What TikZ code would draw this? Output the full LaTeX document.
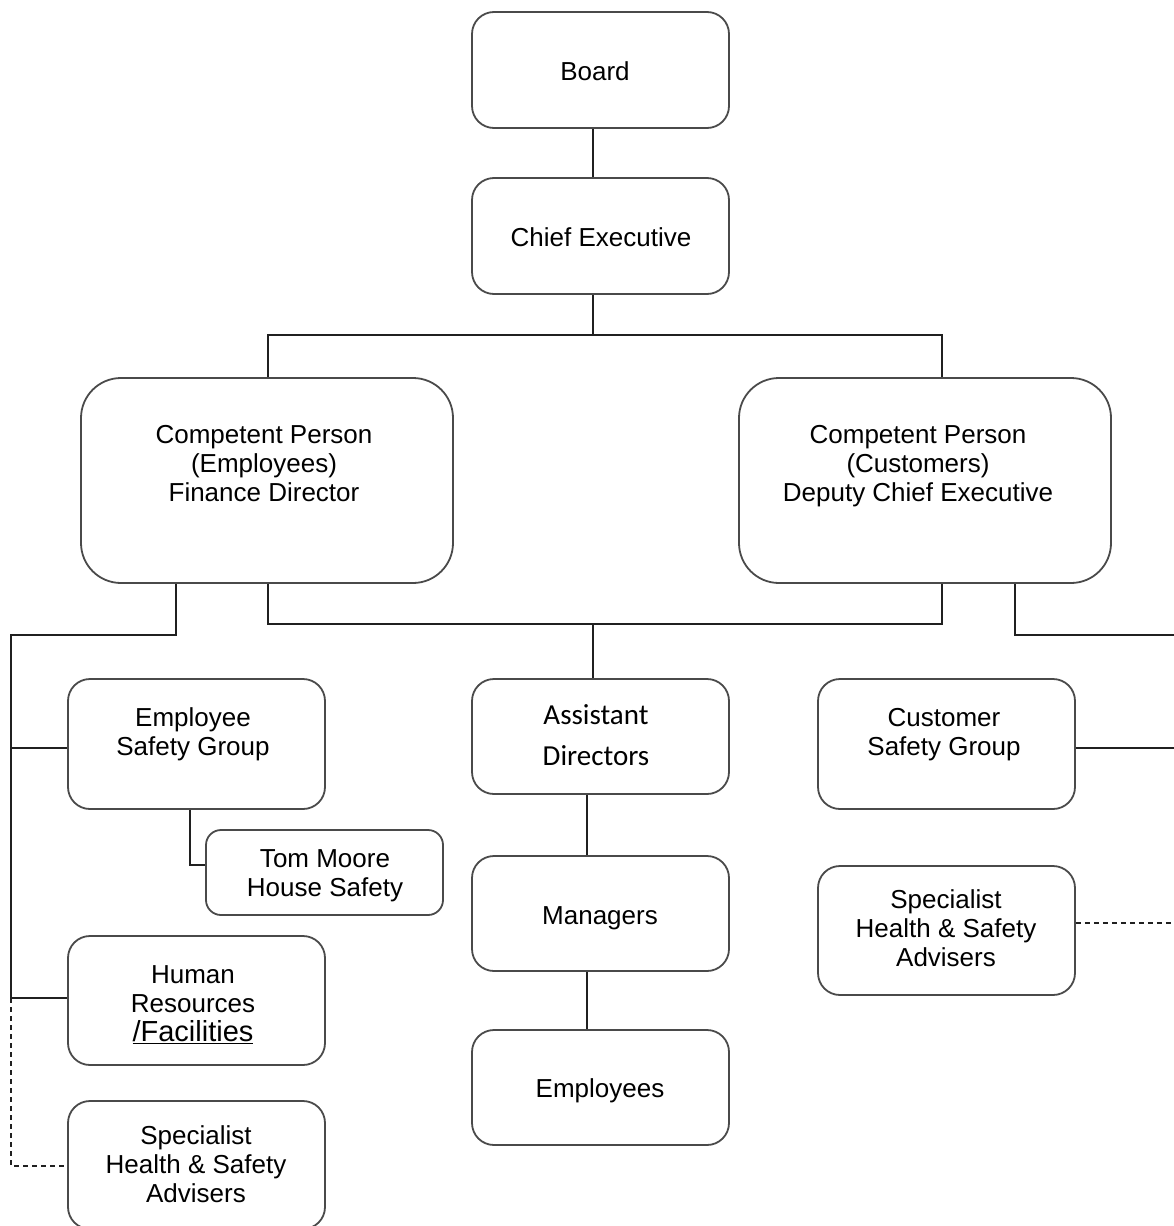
\documentclass[tikz,border=0pt]{standalone}
\usepackage{fontspec}
\setmainfont{Liberation Sans}
\newfontfamily\calib{Carlito}
\definecolor{boxc}{HTML}{4A4A4A}
\definecolor{linec}{HTML}{202020}
\begin{document}
\begin{tikzpicture}[x=1pt,y=-1pt,
  box/.style={draw=boxc, line width=1.8pt, rounded corners=#1, inner sep=0pt},
  box/.default=22pt,
  txt/.style={align=center, inner sep=0pt, font=\fontsize{26}{29}\selectfont},
  conn/.style={draw=linec, line width=1.6pt},
  dconn/.style={conn, dash pattern=on 5pt off 4pt}]
\useasboundingbox (0,0) rectangle (1174,1226);
% boxes
\node[box, minimum width=257pt, minimum height=116pt] (board) at (600.5,70) {};
\node[box, minimum width=257pt, minimum height=116pt] (ce) at (600.5,236) {};
\node[box=40pt, minimum width=372pt, minimum height=205pt] (cpe) at (267,480.5) {};
\node[box=40pt, minimum width=372pt, minimum height=205pt] (cpc) at (925,480.5) {};
\node[box, minimum width=257pt, minimum height=130pt] (esg) at (196.5,744) {};
\node[box=15pt, minimum width=237pt, minimum height=85pt] (tom) at (324.5,872.5) {};
\node[box, minimum width=257pt, minimum height=129pt] (hr) at (196.5,1000.5) {};
\node[box, minimum width=257pt, minimum height=128pt] (spl) at (196.5,1165) {};
\node[box, minimum width=257pt, minimum height=115pt] (ad) at (600.5,736.5) {};
\node[box, minimum width=257pt, minimum height=115pt] (mgr) at (600.5,913.5) {};
\node[box, minimum width=257pt, minimum height=115pt] (emp) at (600.5,1087.5) {};
\node[box, minimum width=257pt, minimum height=130pt] (csg) at (946.5,744) {};
\node[box, minimum width=257pt, minimum height=129pt] (spr) at (946.5,930.5) {};
% texts
\node[txt] (boardT) at (595,71) {Board};
\node[txt] (ceT) at (601,237) {Chief Executive};
\node[txt] (cpeT) at (264,464) {Competent Person\\(Employees)\\Finance Director};
\node[txt] (cpcT) at (918,466) {Competent Person\\(Customers)\\Deputy Chief Executive};
\node[txt] (esgT) at (193,734) {Employee\\Safety Group};
\node[txt] (tomT) at (325,876) {Tom Moore\\House Safety};
\node[txt] (hrT) at (193,1005) {Human\\Resources\\{\fontsize{29}{33}\selectfont\underline{/Facilities}}};
\node[txt] (splT) at (196,1164) {Specialist\\Health \& Safety\\Advisers};
\node[txt, font=\calib\fontsize{29}{41}\selectfont] (adT) at (596,735) {Assistant\\Directors};
\node[txt] (mgrT) at (600,918) {Managers};
\node[txt] (empT) at (600,1091) {Employees};
\node[txt] (csgT) at (944,735) {Customer\\Safety Group};
\node[txt] (sprT) at (946,928) {Specialist\\Health \& Safety\\Advisers};
% junction coordinates
\coordinate (jTop) at (593,335);
\coordinate (xL) at (268,0);
\coordinate (xR) at (942,0);
\coordinate (jMid) at (593,624);
\coordinate (rail) at (11,635);
\coordinate (xLe) at (176,0);
\coordinate (xT) at (190,0);
\coordinate (railR) at (1180,635);
\coordinate (xRe) at (1015,0);
\coordinate (xC) at (587,0);
% connectors
\draw[conn] (board.south -| jTop) -- (ce.north -| jTop);
\draw[conn] (ce.south -| jTop) -- (jTop);
\draw[conn] (cpe.north -| xL) |- (jTop) -| (cpc.north -| xR);
\draw[conn] (cpe.south -| xL) |- (jMid) -| (cpc.south -| xR);
\draw[conn] (jMid) -- (ad.north -| jMid);
\draw[conn] (cpe.south -| xLe) |- (rail) -- ([yshift=2.5pt]rail |- hr.west);
\draw[conn] ([yshift=-4pt]rail |- esg.west) -- ([yshift=-4pt]esg.west);
\draw[conn] ([yshift=2.5pt]rail |- hr.west) -- ([yshift=2.5pt]hr.west);
\draw[dconn] ([yshift=2.5pt]rail |- hr.west) |- ([yshift=-1pt]spl.west);
\draw[conn] (esg.south -| xT) |- ([yshift=7.5pt]tom.west);
\draw[conn] (cpc.south -| xRe) |- (railR);
\draw[conn] ([yshift=-4pt]csg.east) -- ([yshift=-4pt]csg.east -| railR);
\draw[dconn] ([yshift=7.5pt]spr.east) -- ([yshift=7.5pt]spr.east -| railR);
\draw[conn] (ad.south -| xC) -- (mgr.north -| xC);
\draw[conn] (mgr.south -| xC) -- (emp.north -| xC);
\end{tikzpicture}
\end{document}
